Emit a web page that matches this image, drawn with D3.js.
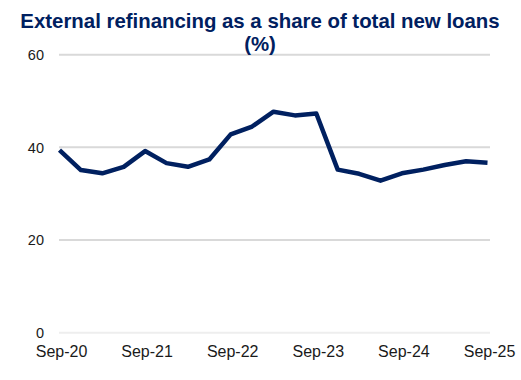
<!DOCTYPE html>
<html>
<head>
<meta charset="utf-8">
<script src="https://cdn.jsdelivr.net/npm/d3@7"></script>
<style>
  body { margin: 0; background: #fff; }
  svg { display: block; font-family: "Liberation Sans", Arial, sans-serif; }
</style>
</head>
<body>
<svg id="chart" width="521" height="380"></svg>
<script>
// quarterly, Sep-20 .. Sep-25
const quarters = ['Sep-20', 'Dec-20', 'Mar-21', 'Jun-21', 'Sep-21', 'Dec-21', 'Mar-22', 'Jun-22',
  'Sep-22', 'Dec-22', 'Mar-23', 'Jun-23', 'Sep-23', 'Dec-23', 'Mar-24', 'Jun-24',
  'Sep-24', 'Dec-24', 'Mar-25', 'Jun-25', 'Sep-25']
const shares = [39.4, 35.1, 34.4, 35.8, 39.2, 36.6, 35.8, 37.4, 42.8, 44.5, 47.7, 46.9,
  47.3, 35.2, 34.3, 32.8, 34.4, 35.2, 36.2, 37.0, 36.7]
const xTickLabels = ['Sep-20', 'Sep-21', 'Sep-22', 'Sep-23', 'Sep-24', 'Sep-25']
const yTicks = [0, 20, 40, 60]

const navy = '#002060'
let svg = d3.select('#chart')

let x = d3.scalePoint().domain(quarters).range([59.5, 487.5])
let y = d3.scaleLinear().domain([0, 60]).range([332.7, 54.7])

// gridlines
svg.append('g')
  .selectAll('line')
  .data(yTicks)
  .join('line')
  .attr('x1', 59).attr('x2', 490)
  .attr('y1', d => y(d)).attr('y2', d => y(d))
  .attr('stroke', d => d === 0 ? '#eeeeee' : '#d9d9d9')
  .attr('stroke-width', 2)

// y labels
let yAxis = d3.axisLeft(y).tickValues(yTicks).tickSize(0).tickPadding(0)
svg.append('g')
  .attr('transform', 'translate(44,0)')
  .call(yAxis)
  .call(g => g.select('.domain').remove())
  .selectAll('text')
  .attr('font-size', 14.5)
  .attr('font-family', '"Liberation Sans", Arial, sans-serif')
  .attr('fill', '#1a1a1a')

// x labels
let xAxis = d3.axisBottom(x).tickValues(xTickLabels).tickSize(0).tickPadding(0)
svg.append('g')
  .attr('transform', 'translate(1.5,346)')
  .call(xAxis)
  .call(g => g.select('.domain').remove())
  .selectAll('text')
  .attr('font-size', 16)
  .attr('font-family', '"Liberation Sans", Arial, sans-serif')
  .attr('fill', '#1a1a1a')

// line
let line = d3.line()
  .x((d, i) => x(quarters[i]))
  .y(d => y(d))
svg.append('path')
  .datum(shares)
  .attr('d', line)
  .attr('fill', 'none')
  .attr('stroke', navy)
  .attr('stroke-width', 4.5)
  .attr('stroke-linejoin', 'round')

// title
let title = svg.append('text')
  .attr('text-anchor', 'middle')
  .attr('font-weight', 'bold')
  .attr('font-size', 20.4)
  .attr('fill', navy)
title.append('tspan').attr('x', 260).attr('y', 28).text('External refinancing as a share of total new loans')
title.append('tspan').attr('x', 260).attr('y', 51).text('(%)')
</script>
</body>
</html>
